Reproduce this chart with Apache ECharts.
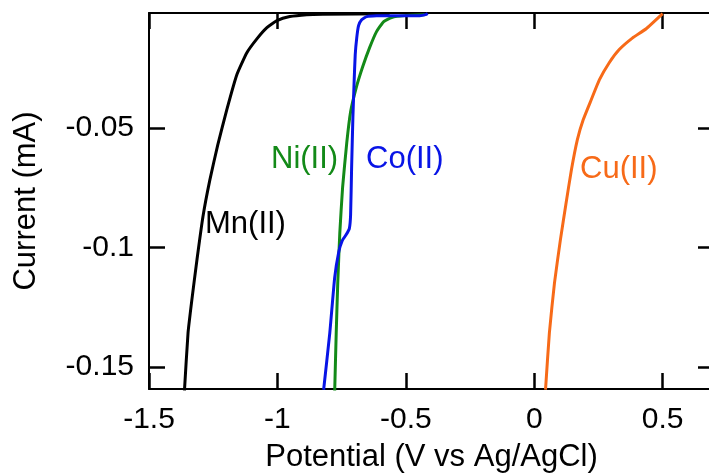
<!DOCTYPE html>
<html>
<head>
<meta charset="utf-8">
<script src="https://cdn.jsdelivr.net/npm/echarts@6/dist/echarts.min.js"></script>
<style>
html,body{margin:0;padding:0;background:#fff;}
#chart{width:709px;height:474px;}
</style>
</head>
<body>
<div id="chart"></div>
<script>
// Potential (V vs Ag/AgCl), Current (mA)
const mnPotential = [-1.362, -1.348, -1.333, -1.313, -1.290, -1.263, -1.232, -1.197, -1.158, -1.119, -1.080, -1.041, -1.002, -0.952, -0.886, -0.823, -0.563];
const mnCurrent   = [-0.1600, -0.1357, -0.1218, -0.1049, -0.0871, -0.0717, -0.0570, -0.0423, -0.0277, -0.0185, -0.0127, -0.0080, -0.0051, -0.0034, -0.0026, -0.0024, -0.0022];

const niPotential = [-0.777, -0.771, -0.765, -0.757, -0.746, -0.730, -0.715, -0.693, -0.668, -0.641, -0.614, -0.586, -0.555, -0.505, -0.427];
const niCurrent   = [-0.1603, -0.1357, -0.1147, -0.0938, -0.0746, -0.0562, -0.0432, -0.0331, -0.0244, -0.0164, -0.0097, -0.0055, -0.0038, -0.0030, -0.0026];

const coPotential = [-0.820, -0.796, -0.777, -0.761, -0.748, -0.732, -0.720, -0.715, -0.711, -0.706, -0.701, -0.697, -0.691, -0.684, -0.672, -0.652, -0.614, -0.524, -0.446, -0.423, -0.415];
const coCurrent   = [-0.1595, -0.1357, -0.1126, -0.1018, -0.0972, -0.0946, -0.0921, -0.0863, -0.0662, -0.0453, -0.0298, -0.0193, -0.0122, -0.0072, -0.0047, -0.0034, -0.0031, -0.0030, -0.0030, -0.0026, -0.0021];

const cuPotential = [0.044, 0.059, 0.079, 0.102, 0.123, 0.145, 0.168, 0.191, 0.222, 0.254, 0.292, 0.331, 0.382, 0.436, 0.500];
const cuCurrent   = [-0.1595, -0.1357, -0.1147, -0.0967, -0.0821, -0.0674, -0.0549, -0.0465, -0.0382, -0.0298, -0.0227, -0.0172, -0.0124, -0.0085, -0.0022];

const xTickValues = [-1.5, -1, -0.5, 0, 0.5];
const yTickValues = [-0.15, -0.1, -0.05];
const seriesNames = ['Mn(II)', 'Ni(II)', 'Co(II)', 'Cu(II)'];
const seriesColors = ['#000000', '#138a18', '#0814e6', '#f76a18'];

const xMin = -1.5, xMax = 0.7;
const yMin = -0.1592, yMax = -0.0019;

function pairs(xs, ys) { return xs.map((x, i) => [x, ys[i]]); }
const seriesData = [
  pairs(mnPotential, mnCurrent),
  pairs(niPotential, niCurrent),
  pairs(coPotential, coCurrent),
  pairs(cuPotential, cuCurrent)
];

const FONT = '"Liberation Sans", Arial, sans-serif';
const axisLineStyle = { color: '#000', width: 2 };
const tickStyle = { color: '#000', width: 2.5 };

function frameAxis(extra) {
  return Object.assign({
    type: 'value',
    axisLine: { show: true, onZero: false, lineStyle: axisLineStyle },
    splitLine: { show: false }
  }, extra);
}

const chart = echarts.init(document.getElementById('chart'), null, { renderer: 'canvas' });
chart.setOption({
  animation: false,
  backgroundColor: '#fff',
  grid: { left: 149, top: 13, width: 565, height: 376, containLabel: false, outerBoundsMode: 'none' },
  xAxis: [
    frameAxis({
      min: xMin, max: xMax, position: 'bottom',
      name: 'Potential (V vs Ag/AgCl)', nameLocation: 'middle', nameGap: 53,
      nameTextStyle: { fontFamily: FONT, fontSize: 31, color: '#000' },
      axisTick: { show: true, inside: true, length: 16, lineStyle: tickStyle, customValues: xTickValues },
      axisLabel: { fontFamily: FONT, fontSize: 30, color: '#000', margin: 16, customValues: xTickValues }
    }),
    frameAxis({
      min: xMin, max: xMax, position: 'top',
      axisTick: { show: true, inside: true, length: 16, lineStyle: tickStyle, customValues: xTickValues },
      axisLabel: { show: false }
    })
  ],
  yAxis: [
    frameAxis({
      min: yMin, max: yMax, position: 'left',
      name: 'Current (mA)', nameLocation: 'middle', nameGap: 107, nameRotate: 90,
      nameTextStyle: { fontFamily: FONT, fontSize: 31, color: '#000' },
      axisTick: { show: true, inside: true, length: 16, lineStyle: tickStyle, customValues: yTickValues },
      axisLabel: { fontFamily: FONT, fontSize: 30, color: '#000', margin: 15, customValues: yTickValues }
    }),
    frameAxis({
      min: yMin, max: yMax, position: 'right',
      axisTick: { show: true, inside: true, length: 16, lineStyle: tickStyle, customValues: yTickValues },
      axisLabel: { show: false }
    })
  ],
  series: seriesData.map((d, i) => ({
    type: 'line', name: seriesNames[i], data: d, showSymbol: false, symbol: 'none',
    smooth: 0.15, clip: true, xAxisIndex: 0, yAxisIndex: 0,
    lineStyle: { color: seriesColors[i], width: 3 }
  })),
  graphic: [
    { type: 'text', left: 205, top: 209, style: { text: seriesNames[0], fill: seriesColors[0], font: '31px ' + FONT } },
    { type: 'text', left: 271, top: 144, style: { text: seriesNames[1], fill: seriesColors[1], font: '31px ' + FONT } },
    { type: 'text', left: 366, top: 144, style: { text: seriesNames[2], fill: seriesColors[2], font: '31px ' + FONT } },
    { type: 'text', left: 580, top: 154, style: { text: seriesNames[3], fill: seriesColors[3], font: '31px ' + FONT } }
  ]
});
</script>
</body>
</html>
